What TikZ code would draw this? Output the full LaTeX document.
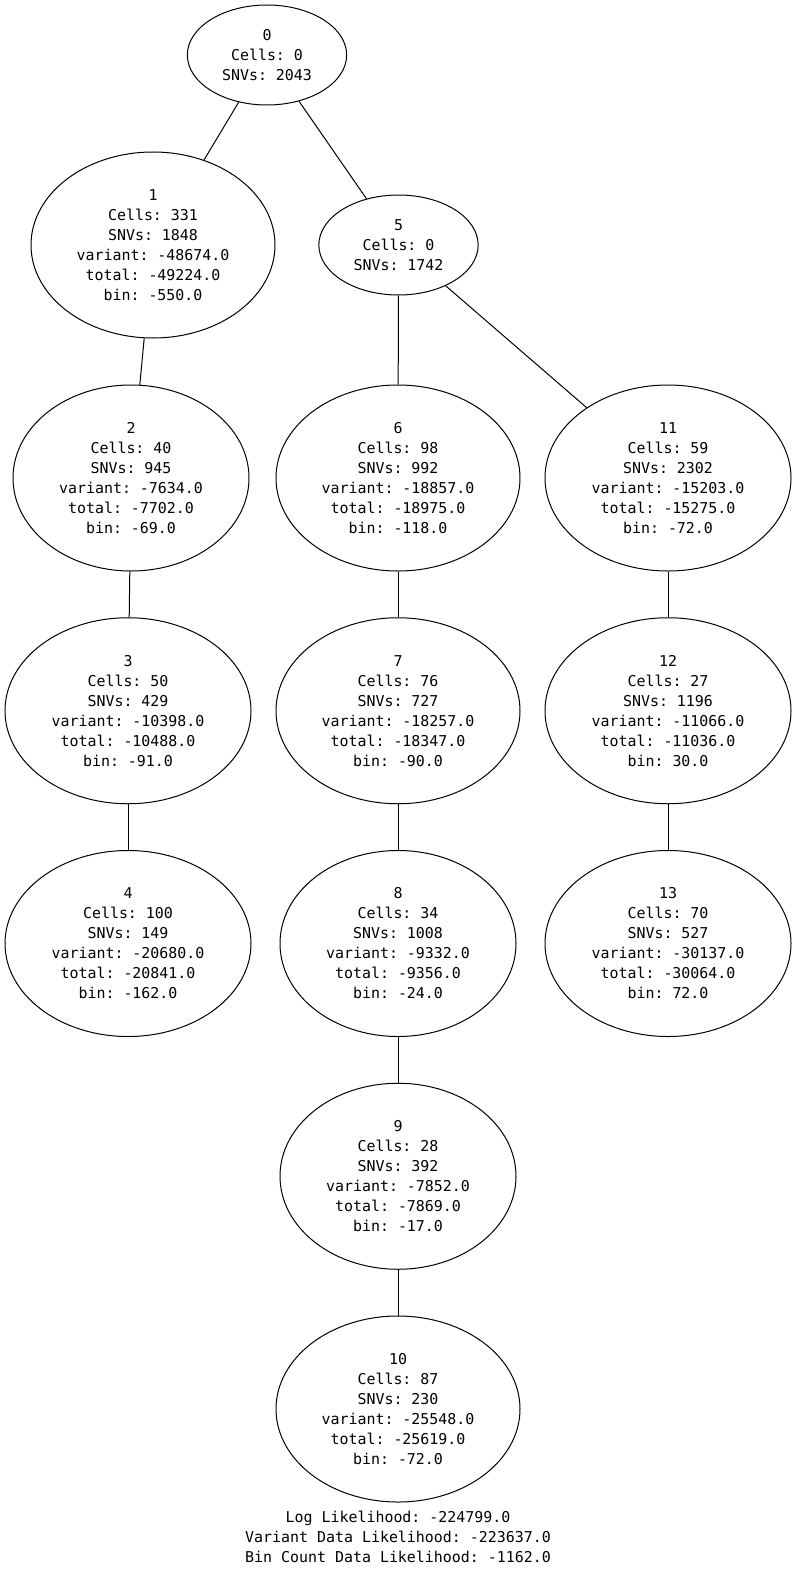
\documentclass[tikz,border=0pt]{standalone}
\usepackage{fontspec}
\setmonofont{DejaVu Sans Mono}
\usetikzlibrary{shapes.geometric}
\tikzset{
  clone/.style={draw=black,line width=0.75pt,ellipse,inner sep=0pt,
    minimum width=183pt,minimum height=139.5pt,align=center,
    font=\fontsize{11.2}{15}\ttfamily},
  smallclone/.style={clone,minimum width=119.5pt,minimum height=75pt},
  treeedge/.style={draw=black,line width=0.75pt}
}

\begin{document}
\begin{tikzpicture}[x=0.75pt,y=-0.75pt]
  \useasboundingbox (0,0) rectangle (799,1573);
  % clones, one row at a time
  \node[smallclone] (n0) at (267,55) {0\\Cells: 0\\SNVs: 2043};
  \node[clone] (n1) at (153,245) {1\\Cells: 331\\SNVs: 1848\\variant: -48674.0\\total: -49224.0\\bin: -550.0};
  \node[smallclone] (n5) at (398.5,245) {5\\Cells: 0\\SNVs: 1742};
  \node[clone,minimum width=177pt] (n2) at (131,478) {2\\Cells: 40\\SNVs: 945\\variant: -7634.0\\total: -7702.0\\bin: -69.0};
  \node[clone] (n6) at (398,478) {6\\Cells: 98\\SNVs: 992\\variant: -18857.0\\total: -18975.0\\bin: -118.0};
  \node[clone,minimum width=184.5pt] (n11) at (668,478) {11\\Cells: 59\\SNVs: 2302\\variant: -15203.0\\total: -15275.0\\bin: -72.0};
  \node[clone,minimum width=184.5pt] (n3) at (128,710.75) {3\\Cells: 50\\SNVs: 429\\variant: -10398.0\\total: -10488.0\\bin: -91.0};
  \node[clone] (n7) at (398,710.75) {7\\Cells: 76\\SNVs: 727\\variant: -18257.0\\total: -18347.0\\bin: -90.0};
  \node[clone,minimum width=184.5pt] (n12) at (668,710.75) {12\\Cells: 27\\SNVs: 1196\\variant: -11066.0\\total: -11036.0\\bin: 30.0};
  \node[clone,minimum width=184.5pt] (n4) at (128,943.5) {4\\Cells: 100\\SNVs: 149\\variant: -20680.0\\total: -20841.0\\bin: -162.0};
  \node[clone,minimum width=177pt] (n8) at (398,943.5) {8\\Cells: 34\\SNVs: 1008\\variant: -9332.0\\total: -9356.0\\bin: -24.0};
  \node[clone,minimum width=184.5pt] (n13) at (668,943.5) {13\\Cells: 70\\SNVs: 527\\variant: -30137.0\\total: -30064.0\\bin: 72.0};
  \node[clone,minimum width=177pt] (n9) at (398,1176.25) {9\\Cells: 28\\SNVs: 392\\variant: -7852.0\\total: -7869.0\\bin: -17.0};
  \node[clone] (n10) at (398,1409) {10\\Cells: 87\\SNVs: 230\\variant: -25548.0\\total: -25619.0\\bin: -72.0};
  % summary below the tree
  \node[align=center,inner sep=0pt,font=\fontsize{11.2}{15}\ttfamily] (summary) at (398,1537)
    {Log Likelihood: -224799.0\\Variant Data Likelihood: -223637.0\\Bin Count Data Likelihood: -1162.0};
  % edges
  \draw[treeedge] (n0) -- (n1);
  \draw[treeedge] (n0) -- (n5);
  \draw[treeedge] (n1) -- (n2);
  \draw[treeedge] (n2) -- (n3);
  \draw[treeedge] (n3) -- (n4);
  \draw[treeedge] (n5) -- (n6);
  \draw[treeedge] (n5) -- (n11);
  \draw[treeedge] (n6) -- (n7);
  \draw[treeedge] (n7) -- (n8);
  \draw[treeedge] (n8) -- (n9);
  \draw[treeedge] (n9) -- (n10);
  \draw[treeedge] (n11) -- (n12);
  \draw[treeedge] (n12) -- (n13);
\end{tikzpicture}
\end{document}
